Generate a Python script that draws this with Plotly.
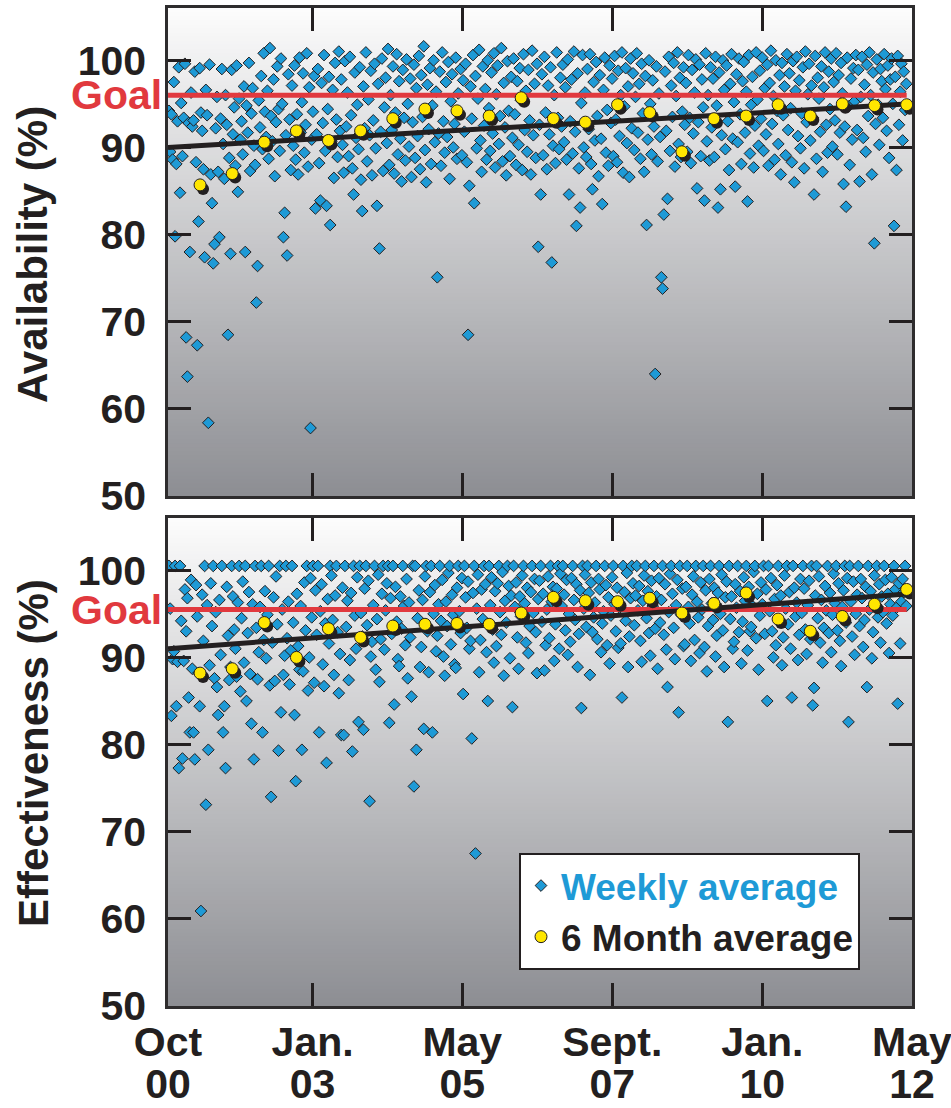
import pandas as pd
import plotly.graph_objects as go

# ---------------- data ----------------
week_start = "2000-10-06"          # first weekly sample, one value per week

availability_weekly = [
    94.2, 89.5, 93.8, 88.6, 97.5, 79.8, 88.1, 93.0, 99.2, 84.8, 95.1, 89.0, 93.4, 99.6, 68.2, 63.7, 92.8, 78.0, 96.3, 92.4,
    93.1, 98.7, 88.3, 67.3, 81.5, 99.1, 94.0, 91.9, 87.5, 77.4, 96.6, 93.7, 58.4, 99.5, 86.9, 83.6, 76.7, 78.9, 92.2, 95.8,
    87.2, 79.7, 93.3, 99.0, 90.4, 86.4, 96.0, 92.6, 68.5, 88.8, 77.8, 98.9, 91.5, 94.6, 87.9, 99.4, 84.9, 95.6, 90.9, 93.0,
    89.2, 97.0, 78.0, 94.8, 91.7, 99.7, 87.3, 93.9, 96.8, 90.2, 88.0, 72.2, 76.4, 95.4, 92.3, 98.2, 89.8, 100.8, 94.1, 91.2,
    96.5, 88.7, 101.4, 93.6, 90.7, 97.8, 86.7, 92.9, 99.3, 94.4, 89.6, 100.2, 95.0, 79.7, 82.5, 91.4, 77.6, 98.4, 93.2, 87.4,
    97.1, 90.2, 99.4, 88.6, 93.8, 86.9, 100.3, 91.7, 95.2, 98.5, 89.4, 92.6, 100.8, 87.8, 96.9, 57.8, 90.9, 94.1, 98.2, 83.0,
    91.5, 99.0, 88.2, 83.9, 97.4, 92.8, 100.6, 89.6, 83.3, 94.4, 98.1, 81.1, 90.7, 96.6, 86.5, 99.7, 93.2, 88.9, 101.0, 91.9,
    97.8, 90.3, 87.1, 99.9, 92.4, 96.3, 89.0, 100.4, 93.7, 87.6, 84.6, 98.6, 91.1, 94.9, 89.8, 99.2, 86.3, 82.7, 97.0, 92.2,
    100.9, 88.4, 95.5, 91.4, 98.8, 86.8, 93.1, 99.6, 89.9, 83.3, 97.3, 78.4, 91.8, 100.2, 87.3, 94.6, 98.0, 90.5, 101.3, 88.0,
    96.0, 92.0, 99.3, 87.0, 94.0, 100.7, 89.2, 97.6, 91.0, 86.1, 98.9, 93.4, 88.5, 100.1, 95.0, 90.1, 97.9, 86.6, 92.9, 99.5,
    88.8, 96.8, 91.3, 100.5, 87.5, 98.3, 93.5, 101.6, 89.7, 86.0, 97.2, 92.1, 99.1, 88.1, 94.8, 100.0, 90.6, 96.4, 75.1, 91.6,
    98.7, 87.9, 100.9, 93.0, 89.4, 97.5, 91.2, 99.8, 86.4, 95.3, 98.4, 90.0, 92.7, 100.3, 88.7, 96.2, 93.9, 99.0, 89.1, 97.7,
    91.8, 99.6, 88.3, 68.5, 85.6, 97.0, 93.3, 100.6, 83.6, 98.2, 89.9, 95.6, 101.2, 90.8, 87.2, 99.3, 92.5, 96.7, 88.6, 100.0,
    94.5, 89.6, 98.6, 91.6, 100.8, 87.7, 96.1, 99.4, 90.4, 93.6, 101.4, 88.4, 97.4, 92.3, 86.8, 99.9, 94.2, 89.0, 98.1, 91.1,
    100.2, 93.8, 88.0, 97.6, 90.3, 99.1, 95.4, 87.4, 100.7, 92.0, 96.5, 89.5, 98.9, 93.1, 86.9, 101.1, 91.4, 97.3, 88.8, 99.6,
    78.6, 92.6, 84.6, 98.4, 89.1, 100.4, 94.0, 87.5, 97.1, 91.5, 99.2, 76.8, 90.2, 96.0, 88.2, 100.9, 93.4, 89.8, 98.0, 92.4,
    99.5, 90.6, 96.9, 88.6, 100.1, 84.6, 93.0, 97.8, 89.3, 101.0, 91.8, 81.0, 98.5, 87.6, 83.1, 95.1, 100.6, 90.0, 96.3, 88.9,
    99.0, 92.1, 100.7, 88.1, 85.2, 97.5, 90.8, 99.8, 93.6, 86.7, 98.3, 91.0, 83.5, 96.6, 100.3, 89.4, 94.3, 87.9, 99.4, 92.8,
    97.9, 89.0, 100.5, 93.2, 88.3, 98.8, 91.3, 96.0, 100.9, 87.1, 94.7, 99.1, 90.5, 97.0, 86.6, 100.2, 92.2, 98.5, 89.7, 95.8,
    100.8, 91.7, 97.3, 88.7, 99.6, 93.9, 87.2, 98.2, 81.1, 90.9, 100.0, 95.0, 89.2, 97.7, 92.4, 64.0, 99.3, 88.4, 96.2, 91.2,
    75.1, 73.8, 82.3, 98.7, 91.9, 84.1, 100.4, 89.6, 97.1, 93.5, 99.7, 87.8, 95.9, 100.9, 90.4, 98.0, 88.9, 94.1, 99.2, 92.6,
    97.4, 89.5, 100.6, 93.4, 88.2, 98.9, 91.6, 96.3, 100.1, 85.3, 92.9, 99.5, 89.0, 97.8, 94.6, 83.9, 100.8, 90.7, 96.0, 88.5,
    99.2, 92.3, 97.9, 88.9, 100.4, 94.8, 83.1, 98.6, 85.2, 91.4, 100.0, 96.6, 89.8, 99.4, 93.0, 87.4, 97.3, 100.7, 91.0, 95.2,
    85.5, 98.4, 90.6, 100.2, 93.8, 88.1, 97.6, 99.8, 91.7, 96.4, 83.8, 100.6, 89.3, 94.9, 98.1, 87.7, 92.5, 100.9, 95.5, 90.2,
    98.8, 93.3, 100.3, 89.6, 96.8, 91.5, 99.5, 87.9, 97.4, 101.1, 92.7, 95.9, 88.6, 100.0, 94.2, 90.4, 98.3, 86.9, 99.7, 93.7,
    97.0, 89.1, 100.7, 92.0, 98.5, 94.5, 88.3, 99.9, 86.0, 96.5, 100.4, 91.3, 97.7, 89.9, 93.9, 99.2, 87.6, 101.0, 92.9, 96.1,
    99.6, 90.8, 97.1, 93.4, 84.6, 100.5, 88.7, 98.0, 95.6, 91.8, 99.3, 87.2, 96.9, 100.9, 92.6, 89.4, 98.7, 94.4, 100.2, 90.1,
    97.5, 93.1, 100.8, 89.2, 98.3, 91.7, 99.7, 96.2, 85.8, 92.4, 83.2, 100.3, 94.7, 88.0, 97.9, 90.9, 99.1, 95.3, 100.6, 92.0,
    98.9, 86.1, 95.8, 100.4, 91.1, 97.2, 89.5, 99.5, 93.6, 100.9, 96.0, 86.9, 98.6, 79.0, 92.7, 100.1, 94.9, 90.3, 99.0, 97.6,
    93.4, 100.7, 96.7, 91.9, 99.4, 88.8, 97.8, 100.2, 95.0, 81.0, 98.1, 87.4, 100.5, 92.6, 96.4, 99.6, 90.8, 98.7, 94.3, 97.3,
]

effectiveness_weekly = [
    100.5, 95.6, 83.3, 89.8, 90.7, 100.5, 84.4, 89.5, 77.3, 100.5, 94.2, 78.4, 89.6, 97.8, 93.0, 96.8, 85.4, 81.4, 98.9, 88.7,
    81.4, 78.3, 98.3, 94.7, 88.2, 84.4, 60.9, 97.2, 91.9, 100.5, 73.1, 96.0, 79.4, 89.1, 98.5, 93.6, 100.5, 87.6, 95.2, 86.6,
    83.4, 96.6, 90.3, 100.5, 81.4, 84.4, 77.3, 98.1, 92.5, 87.4, 88.9, 100.5, 97.0, 93.2, 91.0, 87.8, 96.3, 100.5, 86.1, 94.5,
    98.7, 89.4, 100.5, 85.0, 92.8, 97.5, 88.1, 82.4, 96.1, 78.3, 100.5, 93.4, 87.5, 90.6, 95.8, 100.5, 81.4, 92.0, 97.6, 89.9,
    94.9, 100.5, 86.8, 74.0, 91.7, 96.9, 87.3, 99.3, 93.8, 79.3, 100.5, 83.7, 95.5, 88.0, 90.2, 100.5, 92.2, 96.4, 86.9, 90.8,
    100.5, 94.0, 83.4, 75.8, 97.3, 91.3, 88.6, 95.9, 79.4, 88.4, 98.6, 93.1, 100.5, 86.2, 90.0, 99.1, 94.6, 100.5, 87.1, 97.7,
    92.6, 100.5, 81.4, 95.3, 98.4, 89.2, 86.7, 93.9, 77.9, 96.7, 91.6, 100.5, 99.4, 94.3, 88.0, 97.1, 100.5, 92.9, 85.9, 90.4,
    81.1, 98.0, 81.1, 100.5, 93.5, 96.5, 87.4, 89.7, 97.4, 79.2, 100.5, 94.8, 91.0, 99.2, 82.6, 100.5, 95.1, 92.4, 81.7, 97.9,
    100.5, 93.7, 98.8, 73.5, 90.1, 91.8, 96.0, 100.5, 88.6, 94.4, 99.5, 87.2, 92.1, 97.3, 100.5, 90.9, 95.4, 98.5, 100.5, 82.5,
    96.8, 92.7, 100.5, 84.6, 98.1, 94.1, 89.8, 89.0, 97.0, 93.3, 100.5, 95.9, 91.4, 99.0, 87.6, 96.3, 92.3, 85.5, 100.5, 75.2,
    100.5, 79.4, 94.5, 97.7, 88.9, 91.2, 96.6, 81.8, 99.3, 100.5, 93.0, 88.3, 97.5, 100.5, 81.4, 95.0, 98.3, 90.7, 92.5, 96.1,
    100.5, 94.2, 98.9, 90.1, 87.9, 96.4, 93.6, 99.7, 100.5, 91.5, 97.2, 94.9, 89.2, 88.8, 98.0, 100.5, 95.3, 92.8, 99.1, 85.8,
    100.5, 96.9, 93.4, 98.7, 91.0, 91.9, 80.7, 97.4, 100.5, 67.5, 95.6, 99.5, 88.3, 92.0, 97.8, 94.4, 100.5, 98.4, 90.6, 85.0,
    100.5, 96.0, 99.2, 93.2, 89.4, 97.6, 91.3, 98.5, 100.5, 95.2, 92.6, 99.8, 87.9, 96.5, 94.0, 100.5, 98.2, 89.9, 97.1, 84.3,
    100.5, 95.8, 98.6, 92.3, 88.7, 97.0, 94.7, 99.4, 100.5, 96.2, 91.7, 98.0, 90.5, 93.6, 97.5, 100.5, 95.1, 99.0, 92.9, 88.2,
    96.7, 98.8, 100.5, 94.1, 97.3, 88.5, 91.4, 95.5, 99.3, 92.2, 100.5, 96.4, 98.1, 89.6, 93.8, 97.9, 100.5, 91.0, 99.6, 95.9,
    100.5, 97.2, 93.1, 98.9, 90.3, 95.0, 91.8, 99.1, 100.5, 96.6, 94.3, 98.4, 88.9, 92.7, 97.7, 84.2, 100.5, 95.6, 99.5, 93.5,
    100.5, 97.4, 88.0, 98.6, 92.9, 94.6, 96.3, 100.5, 92.1, 99.0, 97.8, 90.6, 93.9, 95.3, 100.5, 98.3, 91.4, 96.9, 89.3, 94.8,
    99.2, 100.5, 96.1, 93.0, 98.0, 91.1, 95.7, 91.6, 85.4, 100.5, 97.5, 94.2, 99.7, 88.9, 92.4, 96.8, 100.5, 98.5, 93.7, 97.1,
    100.5, 95.4, 98.2, 91.9, 89.5, 96.5, 99.4, 100.5, 94.5, 97.6, 92.8, 90.2, 98.8, 95.9, 100.5, 93.3, 97.0, 88.7, 99.1, 94.0,
    96.6, 100.5, 92.6, 98.4, 90.9, 86.6, 95.2, 99.6, 100.5, 97.3, 93.4, 89.8, 96.0, 98.9, 83.7, 100.5, 94.9, 97.9, 91.3, 91.5,
    98.1, 100.5, 95.8, 93.9, 89.6, 97.2, 99.3, 92.0, 100.5, 96.4, 94.6, 90.5, 98.6, 95.5, 100.5, 91.2, 97.7, 88.4, 93.6, 99.0,
    100.5, 96.2, 94.3, 98.0, 90.1, 92.5, 97.4, 100.5, 95.0, 99.5, 93.1, 88.9, 96.9, 98.7, 82.6, 100.5, 94.4, 97.0, 91.0, 91.8,
    98.4, 95.7, 100.5, 92.9, 97.6, 89.3, 94.1, 99.2, 96.5, 100.5, 90.8, 98.1, 93.0, 93.5, 95.9, 99.8, 100.5, 92.2, 97.3, 88.6,
    94.8, 98.6, 96.1, 100.5, 92.7, 97.8, 85.0, 100.5, 95.3, 99.1, 93.0, 90.0, 96.7, 91.4, 98.3, 100.5, 94.2, 97.1, 89.1, 92.3,
    99.4, 95.6, 100.5, 93.8, 97.5, 91.0, 85.4, 100.5, 98.0, 94.7, 96.3, 89.7, 92.6, 99.0, 95.1, 100.5, 97.9, 93.2, 90.4, 96.0,
    98.8, 92.1, 100.5, 84.5, 86.5, 97.1, 100.5, 94.5, 99.3, 91.7, 96.6, 89.4, 93.4, 98.2, 95.4, 100.5, 92.8, 97.4, 90.6, 94.9,
    99.6, 96.2, 100.5, 93.1, 98.5, 91.9, 89.0, 95.8, 97.7, 100.5, 94.0, 99.1, 82.6, 100.5, 96.4, 92.4, 98.7, 90.3, 95.0, 97.2,
    100.5, 93.6, 99.0, 96.8, 91.2, 94.3, 98.1, 86.6, 100.5, 95.5, 97.6, 89.9, 92.9, 99.4, 96.0, 100.5, 94.6, 98.4, 91.7, 97.0,
    95.2, 100.5, 98.9, 93.9, 97.3, 90.5, 96.1, 99.2, 94.8, 100.5, 97.8, 95.7, 84.7, 98.5, 91.6, 96.4, 99.0, 97.5, 100.5, 95.9,
]

six_month_start = "2001-04-01"     # 6 month averages, one point every six months
availability_6mo = [85.7, 87.0, 90.6, 91.9, 90.8, 91.9, 93.3, 94.4, 94.2, 93.6, 95.7, 93.3,
                    92.9, 94.9, 94.0, 89.5, 93.3, 93.6, 94.9, 93.6, 95.0, 94.8, 94.9]
effectiveness_6mo = [88.2, 88.7, 94.0, 90.0, 93.3, 92.3, 93.6, 93.8, 93.9, 93.8, 95.1, 96.9,
                     96.5, 96.4, 96.8, 95.1, 96.2, 97.4, 94.4, 93.0, 94.7, 96.1, 97.8]

trend_dates = ["2000-10-01", "2012-04-20"]
availability_trend = [90.0, 95.0]
effectiveness_trend = [91.0, 97.3]

goal_dates = ["2000-10-01", "2012-04-01"]
availability_goal = 96.0
effectiveness_goal = 95.5

x_tick_dates = ["2000-10-01", "2003-01-01", "2005-05-01", "2007-09-01", "2010-01-01", "2012-05-01"]
x_tick_months = ["Oct", "Jan.", "May", "Sept.", "Jan.", "May"]
x_tick_years = ["00", "03", "05", "07", "10", "12"]
y_ticks = [50, 60, 70, 80, 90, 100]
y_tick_text = ["50", "60", "70", "80", "90", "100"]

# ---------------- styling ----------------
FONT = "Liberation Sans, Arial, Helvetica, sans-serif"
INK = "#231f20"
BLUE = "#1e9ad6"
YELLOW = "#ffe600"
RED = "#e1393e"

W, H = 951, 1108
ML, MR, MT, MB = 168, 39, 8, 102
PW, PH = W - ML - MR, H - MT - MB
GAP = 22
PANEL = (PH - GAP) / 2
bottom_dom = [0, PANEL / PH]
top_dom = [(PANEL + GAP) / PH, 1]

X0, X1 = pd.Timestamp("2000-09-30 18:00"), pd.Timestamp("2012-05-01 06:00")
Y0, Y1 = 50, 106

# drop shadow offset for the 6 month markers (pixels right / down)
SH_DX, SH_DY = 3, 4
dx = SH_DX / PW
x_shadow_range = [X0, X0 + (X1 - X0) * (1 - dx)]
bottom_shadow_y = [Y0 + (Y1 - Y0) * SH_DY / PANEL, Y1]

weekly_dates_a = pd.date_range(week_start, periods=len(availability_weekly), freq="7D")
weekly_dates_e = pd.date_range(week_start, periods=len(effectiveness_weekly), freq="7D")
six_dates_a = pd.date_range(six_month_start, periods=len(availability_6mo), freq="6MS")
six_dates_e = pd.date_range(six_month_start, periods=len(effectiveness_6mo), freq="6MS")

fig = go.Figure()


def add_panel(xa, ya, xs, ys, xy_, yy_, wdates, wvals, sdates, svals, trend, goal, legend):
    # weekly averages
    fig.add_trace(go.Scatter(x=wdates, y=wvals, mode="markers",
                             marker=dict(symbol="diamond", size=9, color=BLUE,
                                         line=dict(color=INK, width=1)),
                             xaxis=xa, yaxis=ya, showlegend=legend, legendrank=1,
                             name=f'<span style="color:{BLUE}">Weekly average</span>'))
    # goal line
    fig.add_trace(go.Scatter(x=goal_dates, y=[goal, goal], mode="lines",
                             line=dict(color=RED, width=5), xaxis=xa, yaxis=ya,
                             showlegend=False, hoverinfo="skip"))
    # linear trend
    fig.add_trace(go.Scatter(x=trend_dates, y=trend, mode="lines",
                             line=dict(color=INK, width=5), xaxis=xa, yaxis=ya,
                             showlegend=False, hoverinfo="skip"))
    # drop shadow of 6 month markers (on offset axes)
    fig.add_trace(go.Scatter(x=sdates, y=svals, mode="markers",
                             marker=dict(symbol="circle", size=12, color=INK),
                             xaxis=xs, yaxis=ys, showlegend=False, hoverinfo="skip"))
    # 6 month averages
    fig.add_trace(go.Scatter(x=sdates, y=svals, mode="markers",
                             marker=dict(symbol="circle", size=12, color=YELLOW,
                                         line=dict(color=INK, width=1)),
                             xaxis=xy_, yaxis=yy_, showlegend=legend, legendrank=2,
                             name="6 Month average"))


add_panel("x", "y", "x4", "y4", "x6", "y6", weekly_dates_e, effectiveness_weekly,
          six_dates_e, effectiveness_6mo, effectiveness_trend, effectiveness_goal, True)
add_panel("x2", "y2", "x3", "y3", "x5", "y5", weekly_dates_a, availability_weekly,
          six_dates_a, availability_6mo, availability_trend, availability_goal, False)

# carrier for the second row (years) of the date labels
fig.add_trace(go.Scatter(x=[], y=[], xaxis="x7", yaxis="y", showlegend=False))

tickfont = dict(family=FONT, size=41, color=INK, weight="bold")
common_x = dict(type="date", range=[X0, X1], tickmode="array", tickvals=x_tick_dates,
                ticktext=x_tick_months, ticks="inside", ticklen=23, tickwidth=2.5, tickcolor=INK,
                showline=True, linecolor="#2e2c2d", linewidth=2.5, mirror="ticks",
                showgrid=False, zeroline=False, tickfont=tickfont, automargin=False,
                ticklabelstandoff=-2, ticklabeloverflow="allow", fixedrange=True)
common_y = dict(range=[Y0, Y1], tickmode="array", tickvals=y_ticks, ticktext=y_tick_text,
                ticks="inside", ticklen=23, tickwidth=2.5, tickcolor=INK,
                showline=True, linecolor="#2e2c2d", linewidth=2.5, mirror="ticks",
                showgrid=False, zeroline=False, tickfont=tickfont, automargin=False,
                ticklabelstandoff=11, ticklabeloverflow="allow", fixedrange=True)
hidden = dict(visible=False, showgrid=False, zeroline=False, fixedrange=True)

fig.update_layout(
    xaxis=dict(common_x, domain=[0, 1], anchor="y"),
    yaxis=dict(common_y, domain=bottom_dom, anchor="x"),
    xaxis2=dict(common_x, domain=[0, 1], anchor="y2", showticklabels=False),
    yaxis2=dict(common_y, domain=top_dom, anchor="x2"),
    xaxis3=dict(hidden, type="date", range=x_shadow_range, domain=[dx, 1], anchor="y3"),
    yaxis3=dict(hidden, range=[Y0, Y1], domain=[top_dom[0] - SH_DY / PH, 1 - SH_DY / PH], anchor="x3"),
    xaxis4=dict(hidden, type="date", range=x_shadow_range, domain=[dx, 1], anchor="y4"),
    yaxis4=dict(hidden, range=bottom_shadow_y, domain=[0, bottom_dom[1] - SH_DY / PH], anchor="x4"),
    xaxis5=dict(hidden, type="date", range=[X0, X1], domain=[0, 1], anchor="y5"),
    yaxis5=dict(hidden, range=[Y0, Y1], domain=top_dom, anchor="x5"),
    xaxis6=dict(hidden, type="date", range=[X0, X1], domain=[0, 1], anchor="y6"),
    yaxis6=dict(hidden, range=[Y0, Y1], domain=bottom_dom, anchor="x6"),
    xaxis7=dict(type="date", range=[X0, X1], overlaying="x", anchor="y", side="bottom",
                tickmode="array", tickvals=x_tick_dates, ticktext=x_tick_years,
                ticks="", showline=False, showgrid=False, zeroline=False,
                tickfont=tickfont, automargin=False, ticklabelstandoff=50,
                ticklabeloverflow="allow", fixedrange=True),
)

# vertical grey gradient behind each panel
N_BANDS = 120
top_rgb, bot_rgb = (252, 252, 252), (141, 142, 147)
shapes = []
for xr, yr in (("x domain", "y domain"), ("x2 domain", "y2 domain")):
    for k in range(N_BANDS):
        t = (k + 0.5) / N_BANDS
        c = tuple(round(b + (a - b) * t) for a, b in zip(top_rgb, bot_rgb))
        shapes.append(dict(type="rect", xref=xr, yref=yr, x0=0, x1=1,
                           y0=k / N_BANDS, y1=(k + 1) / N_BANDS + 0.002,
                           fillcolor=f"rgb{c}", line=dict(width=0), layer="below"))

annotations = [
    dict(text="Goal", xref="x2 domain", x=0, yref="y2", y=availability_goal,
         xanchor="right", yanchor="middle", xshift=-4, showarrow=False,
         font=dict(family=FONT, size=41, color=RED, weight="bold")),
    dict(text="Goal", xref="x domain", x=0, yref="y", y=effectiveness_goal,
         xanchor="right", yanchor="middle", xshift=-4, showarrow=False,
         font=dict(family=FONT, size=41, color=RED, weight="bold")),
    dict(text="Availability (%)", textangle=-90, xref="paper", x=(33 - ML) / PW,
         yref="paper", y=(H - MB - 255) / PH, xanchor="center", yanchor="middle",
         showarrow=False, font=dict(family=FONT, size=42, color=INK, weight="bold")),
    dict(text="Effectiveness (%)", textangle=-90, xref="paper", x=(33 - ML) / PW,
         yref="paper", y=(H - MB - 753) / PH, xanchor="center", yanchor="middle",
         showarrow=False, font=dict(family=FONT, size=42, color=INK, weight="bold")),
]

fig.update_layout(
    template="none",
    width=W, height=H,
    margin=dict(l=ML, r=MR, t=MT, b=MB, pad=0),
    paper_bgcolor="white",
    plot_bgcolor="rgba(0,0,0,0)",
    shapes=shapes,
    annotations=annotations,
    showlegend=True,
    legend=dict(x=(519 - ML) / PW, y=(H - MB - 853) / PH, xanchor="left", yanchor="top",
                bgcolor="white", bordercolor=INK, borderwidth=2,
                font=dict(family=FONT, size=37, color=INK, weight="bold"),
                traceorder="normal", itemsizing="trace"),
    hovermode=False,
)

fig.write_html("out.html")
